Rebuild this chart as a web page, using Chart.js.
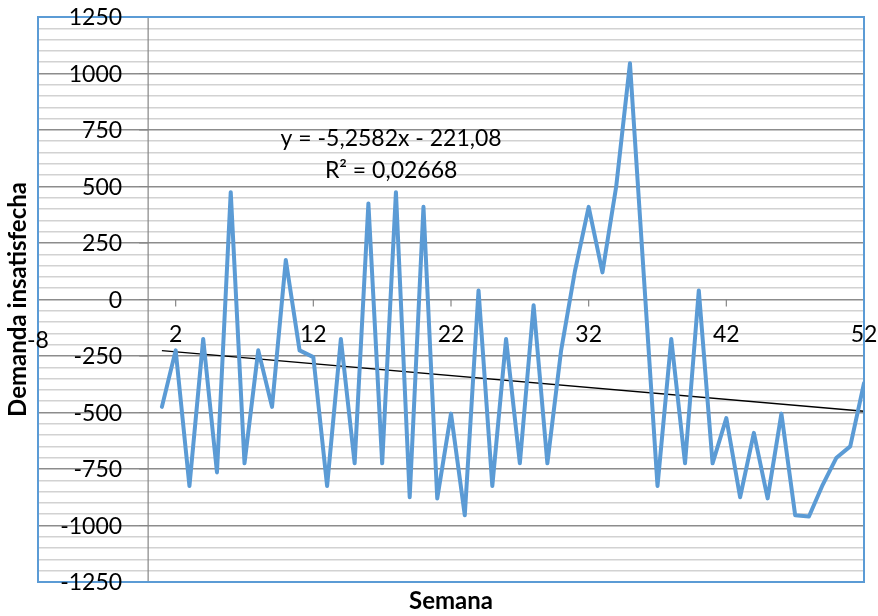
<!DOCTYPE html>
<html>
<head>
<meta charset="utf-8">
<script src="https://cdn.jsdelivr.net/npm/chart.js@4.4.1/dist/chart.umd.min.js"></script>
<style>
  html, body { margin: 0; padding: 0; background: #fff; }
  #wrap { width: 878px; height: 616px; }
</style>
</head>
<body>
<div id="wrap"><canvas id="grafico" width="878" height="616"></canvas></div>
<script>
// semanas 1..52 y demanda insatisfecha
const semanas = [
    1, 2, 3, 4, 5, 6, 7, 8, 9, 10, 11, 12, 13,
    14, 15, 16, 17, 18, 19, 20, 21, 22, 23, 24, 25, 26,
    27, 28, 29, 30, 31, 32, 33, 34, 35, 36, 37, 38, 39,
    40, 41, 42, 43, 44, 45, 46, 47, 48, 49, 50, 51, 52
];
const demanda = [
    -475, -225, -825, -175, -765, 475, -725, -225, -475, 175, -225, -255, -825,
    -175, -725, 425, -725, 475, -875, 410, -880, -505, -955, 40, -825, -175,
    -725, -25, -725, -225, 125, 410, 120, 500, 1045, 110, -825, -175, -725,
    40, -725, -525, -875, -590, -880, -505, -955, -960, -820, -700, -650, -370
];
const xTicks = [-8, 2, 12, 22, 32, 42, 52];
const yTicks = [-1250, -1000, -750, -500, -250, 0, 250, 500, 750, 1000, 1250];
const tendencia = { pendiente: -5.2582, intercepto: -221.08 };
const ecuacion = ["y = -5,2582x - 221,08", "R² = 0,02668"];

const FONT = "Lato, 'Liberation Sans', sans-serif";
const azul = "#5b9bd5";

const puntos = semanas.map((s, i) => ({ x: s, y: demanda[i] }));
const primera = semanas[0], ultima = semanas[semanas.length - 1];
const lineaTend = [
    { x: primera, y: tendencia.pendiente * primera + tendencia.intercepto },
    { x: ultima, y: tendencia.pendiente * ultima + tendencia.intercepto }
];

const decor = {
    id: "decor",
    beforeDatasetsDraw(chart) {
        const ctx = chart.ctx, xs = chart.scales.x, ys = chart.scales.y, a = chart.chartArea;
        const x0 = xs.getPixelForValue(0), y0 = ys.getPixelForValue(0);
        ctx.save();
        ctx.strokeStyle = "#868686";
        ctx.lineWidth = 1.2;
        ctx.beginPath();
        ctx.moveTo(x0, a.top);
        ctx.lineTo(x0, a.bottom);
        yTicks.forEach(v => {
            const py = ys.getPixelForValue(v);
            ctx.moveTo(x0 - 9, py);
            ctx.lineTo(x0, py);
        });
        xTicks.forEach(v => {
            const px = xs.getPixelForValue(v);
            ctx.moveTo(px, y0);
            ctx.lineTo(px, y0 + 7);
        });
        ctx.stroke();
        ctx.restore();
    },
    afterDraw(chart) {
        const ctx = chart.ctx, xs = chart.scales.x, ys = chart.scales.y, a = chart.chartArea;
        const x0 = xs.getPixelForValue(0), y0 = ys.getPixelForValue(0);
        ctx.save();
        ctx.strokeStyle = azul;
        ctx.lineWidth = 2;
        ctx.strokeRect(a.left, a.top, a.right - a.left, a.bottom - a.top);

        ctx.fillStyle = "#000";
        ctx.font = "23px " + FONT;
        ctx.textBaseline = "middle";
        ctx.textAlign = "right";
        yTicks.forEach(v => {
            ctx.fillText(String(v), x0 - 26, ys.getPixelForValue(v) + 1);
        });
        ctx.textAlign = "center";
        xTicks.forEach((v, i) => {
            ctx.fillText(String(v), xs.getPixelForValue(v), y0 + (i === 0 ? 41 : 35));
        });

        ctx.font = "23px " + FONT;
        const ex = xs.getPixelForValue(17.65);
        ctx.fillText(ecuacion[0], ex, ys.getPixelForValue(710));
        ctx.fillText(ecuacion[1], ex, ys.getPixelForValue(569));
        ctx.restore();
    }
};

new Chart(document.getElementById("grafico").getContext("2d"), {
    type: "scatter",
    data: {
        datasets: [{
            label: "Demanda insatisfecha",
            data: puntos,
            showLine: true,
            borderColor: azul,
            backgroundColor: azul,
            borderWidth: 4,
            borderJoinStyle: "round",
            borderCapStyle: "round",
            pointRadius: 0,
            tension: 0
        }, {
            label: "Tendencia",
            data: lineaTend,
            showLine: true,
            borderColor: "#000",
            borderWidth: 1.3,
            pointRadius: 0
        }]
    },
    options: {
        responsive: false,
        animation: false,
        devicePixelRatio: 1,
        layout: { padding: { top: 17, right: 14, bottom: 0, left: 0 } },
        plugins: {
            legend: { display: false },
            tooltip: { enabled: false }
        },
        scales: {
            x: {
                type: "linear",
                min: -8,
                max: 52,
                grid: { display: false, drawTicks: false },
                border: { display: false },
                ticks: { display: false },
                title: {
                    display: true,
                    text: "Semana",
                    color: "#000",
                    font: { family: FONT, size: 24, weight: "bold" },
                    padding: { top: 5.2, bottom: 0 }
                }
            },
            y: {
                type: "linear",
                min: -1250,
                max: 1250,
                grid: {
                    drawTicks: false,
                    lineWidth: 1.6,
                    color: (c) => (c.tick && c.tick.value % 250 === 0) ? "#8c8c8c" : "#d2d2d2"
                },
                border: { display: false },
                ticks: { display: false, stepSize: 50, autoSkip: false },
                title: {
                    display: true,
                    text: "Demanda insatisfecha",
                    color: "#000",
                    font: { family: FONT, size: 24, weight: "bold" },
                    padding: { top: 4, bottom: 5.2 }
                }
            }
        }
    },
    plugins: [decor]
});
</script>
</body>
</html>
